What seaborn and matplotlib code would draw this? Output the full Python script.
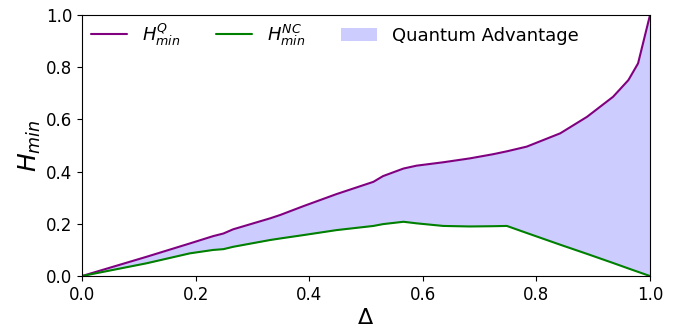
import numpy as np
import pandas as pd
import seaborn as sns
import matplotlib
matplotlib.use('Agg')
import matplotlib.pyplot as plt

# values
delta = [0, 0.114, 0.19, 0.231, 0.249, 0.266, 0.331, 0.349, 0.39, 0.448, 0.513, 0.53,
         0.566, 0.589, 0.636, 0.683, 0.724, 0.748, 0.783, 0.842, 0.889, 0.935, 0.962, 0.979, 1.0]
h_q = [0, 0.074, 0.125, 0.153, 0.163, 0.179, 0.221, 0.234, 0.268, 0.314, 0.361, 0.383,
       0.412, 0.423, 0.436, 0.451, 0.467, 0.478, 0.496, 0.547, 0.61, 0.687, 0.751, 0.815, 1.0]
h_nc = [0, 0.049, 0.087, 0.1, 0.103, 0.112, 0.138, 0.144, 0.157, 0.176, 0.192, 0.199,
        0.208, 0.202, 0.192, 0.190, 0.191, 0.192, 0.165, 0.12, 0.085, 0.05, 0.029, 0.016, 0]

df = pd.DataFrame({'Delta': delta, 'HQ': h_q, 'HNC': h_nc})

sns.set_style('ticks')
plt.rcParams['font.family'] = ['DejaVu Sans']
plt.rcParams['text.color'] = 'black'
plt.rcParams['axes.labelcolor'] = 'black'
plt.rcParams['xtick.color'] = 'black'
plt.rcParams['ytick.color'] = 'black'

fig = plt.figure(figsize=(6.86, 3.29), dpi=100)
ax = fig.add_axes([0.1195, 0.161, 0.828, 0.793])

sns.lineplot(data=df, x='Delta', y='HQ', color='purple', lw=1.5, label=r'$H^{Q}_{min}$', ax=ax)
sns.lineplot(data=df, x='Delta', y='HNC', color='green', lw=1.5, label=r'$H^{NC}_{min}$', ax=ax)
ax.fill_between(df['Delta'], df['HNC'], df['HQ'], color='blue', alpha=0.2, lw=0,
                label='Quantum Advantage')

ax.set_xlim(0, 1)
ax.set_ylim(0, 1)
ax.set_xlabel(r'$\Delta$', fontsize=16, labelpad=3)
ax.set_ylabel(r'$H_{min}$', fontsize=18, labelpad=2)
ax.tick_params(labelsize=12)
for s in ax.spines.values():
    s.set_color('black')
ax.legend(loc='upper left', bbox_to_anchor=(0.0158, 0.977), ncol=3, frameon=False,
          fontsize=13, borderaxespad=0, borderpad=0)

plt.savefig('out.png', dpi=100)
